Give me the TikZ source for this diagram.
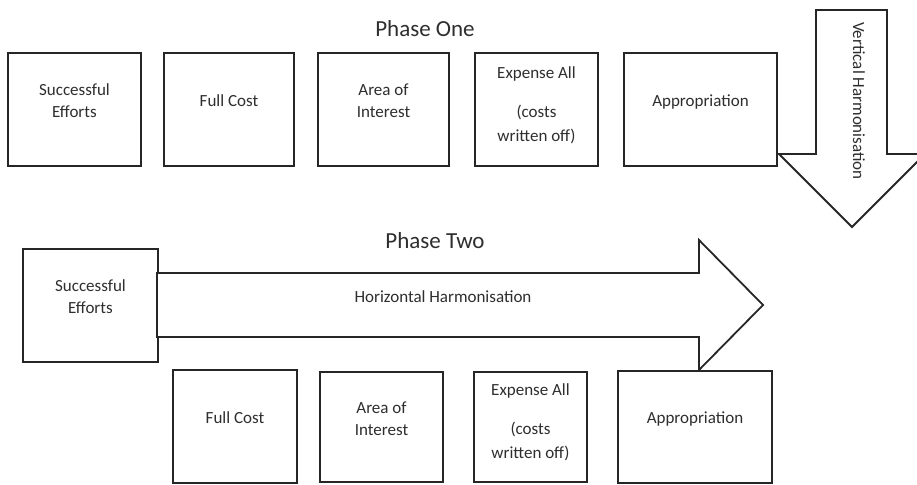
\documentclass[tikz,border=0pt]{standalone}
\usepackage{fontspec}
\setmainfont{Carlito}
\definecolor{linec}{HTML}{262626}
\definecolor{txtc}{HTML}{2E2E2E}
\begin{document}
\begin{tikzpicture}[x=1pt,y=-1pt,
  box/.style={draw=linec, line width=1.8pt, inner sep=0pt, fill=white},
  lbl/.style={font=\fontsize{17}{22}\selectfont, text=txtc, align=center, inner sep=0pt},
  phase/.style={font=\fontsize{23}{27}\selectfont, text=txtc, inner sep=0pt, anchor=base},
  bigarrow/.style={draw=linec, line width=1.8pt, line join=miter, fill=white}]
\path[clip] (0,0) rectangle (917,484);
\fill[white] (0,0) rectangle (917,484);

% Phase One
\node[phase] (p1) at (425,37) {Phase One};
\node[box, minimum width=133pt, minimum height=113pt] (t1) at (74.5,109.5) {};
\node[box, minimum width=130pt, minimum height=113pt] (t2) at (229,109.5) {};
\node[box, minimum width=131pt, minimum height=113pt] (t3) at (383.5,109.5) {};
\node[box, minimum width=123pt, minimum height=113pt] (t4) at (536.5,109.5) {};
\node[box, minimum width=153pt, minimum height=113pt] (t5) at (700.5,109.5) {};
\node[lbl] (t1l) at (74.5,101) {Successful\\Efforts};
\node[lbl] (t2l) at (229,101) {Full Cost};
\node[lbl] (t3l) at (383.5,101) {Area of\\Interest};
\node[lbl, font=\fontsize{17}{24}\selectfont] (t4l) at (536.5,105) {Expense All\\[15pt](costs\\written off)};
\node[lbl] (t5l) at (700.5,102) {Appropriation};

% Vertical arrow
\draw[bigarrow] (816,10) -- (887,10) -- (887,154) -- (925,154) -- (852,227)
  -- (779,154) -- (816,154) -- cycle;
\node[lbl, rotate=-90] (vh) at (859,101) {Vertical Harmonisation};

% Phase Two
\node[phase] (p2) at (435,248) {Phase Two};
\node[box, minimum width=135pt, minimum height=113pt] (b0) at (90.5,305.5) {};
\node[lbl] (b0l) at (90.5,297) {Successful\\Efforts};
\draw[bigarrow] (157,273) -- (699,273) -- (699,240) -- (763,305) -- (699,370)
  -- (699,337) -- (157,337) -- cycle;
\node[lbl, anchor=base] (hh) at (443,302) {Horizontal Harmonisation};

\node[box, minimum width=124pt, minimum height=113pt] (b1) at (235,426.5) {};
\node[box, minimum width=123pt, minimum height=110pt] (b2) at (381.5,427) {};
\node[box, minimum width=113pt, minimum height=110pt] (b3) at (530.5,427) {};
\node[box, minimum width=154pt, minimum height=112pt] (b4) at (695,427) {};
\node[lbl] (b1l) at (235,418) {Full Cost};
\node[lbl] (b2l) at (381.5,419) {Area of\\Interest};
\node[lbl, font=\fontsize{17}{24}\selectfont] (b3l) at (530.5,422) {Expense All\\[15pt](costs\\written off)};
\node[lbl] (b4l) at (695,419) {Appropriation};
\end{tikzpicture}
\end{document}
